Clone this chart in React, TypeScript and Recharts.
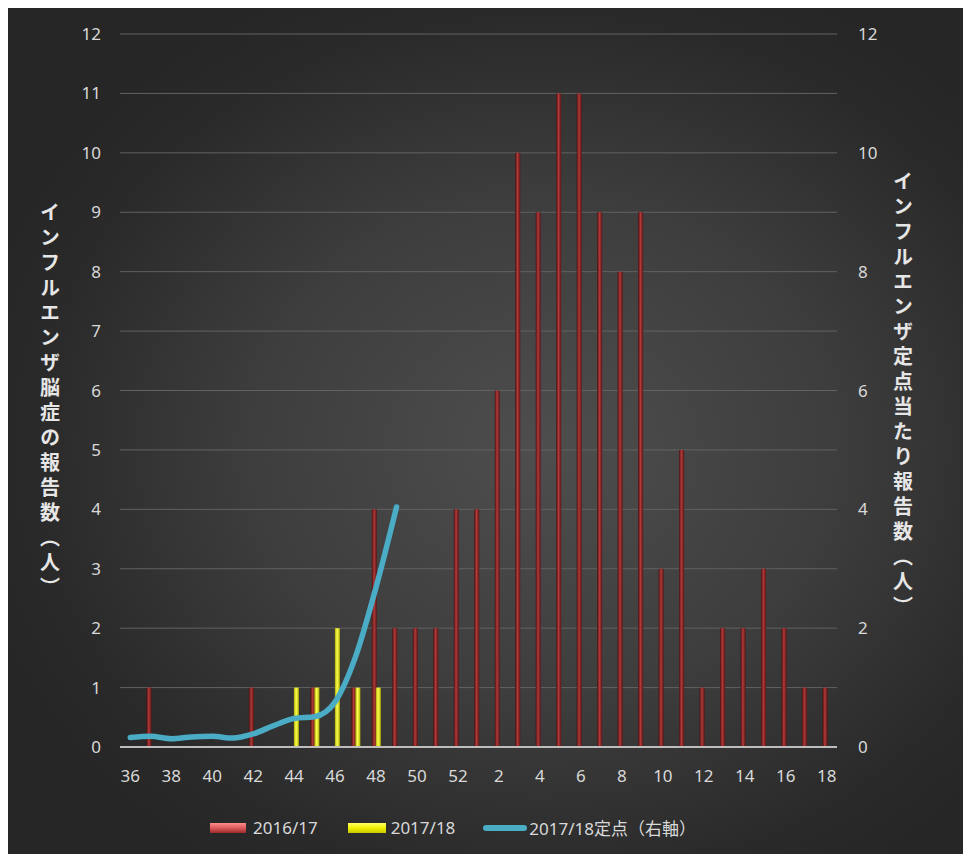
import React from 'react';
import {
  ComposedChart,
  Bar,
  Line,
  XAxis,
  YAxis,
  CartesianGrid,
  Legend,
} from 'recharts';

const weeks = [
  '36', '37', '38', '39', '40', '41', '42', '43', '44', '45', '46', '47', '48', '49', '50', '51', '52',
  '1', '2', '3', '4', '5', '6', '7', '8', '9', '10', '11', '12', '13', '14', '15', '16', '17', '18',
];

const cases201617 = [
  0, 1, 0, 0, 0, 0, 1, 0, 0, 1, 0, 1, 4, 2, 2, 2, 4,
  4, 6, 10, 9, 11, 11, 9, 8, 9, 3, 5, 1, 2, 2, 3, 2, 1, 1,
];

const cases201718 = [
  null, null, null, null, null, null, null, null, 1, 1, 2, 1, 1, null, null, null, null,
  null, null, null, null, null, null, null, null, null, null, null, null, null, null, null, null, null, null,
];

const sentinel201718 = [
  0.16, 0.18, 0.14, 0.17, 0.18, 0.15, 0.22, 0.36, 0.48, 0.51, 0.76, 1.52, 2.69, 4.04, null, null, null,
  null, null, null, null, null, null, null, null, null, null, null, null, null, null, null, null, null, null,
];

const leftTicks = [0, 1, 2, 3, 4, 5, 6, 7, 8, 9, 10, 11, 12];
const rightTicks = [0, 2, 4, 6, 8, 10, 12];

const seriesNames = {
  a: '2016/17',
  b: '2017/18',
  c: '2017/18定点（右軸）',
};

const leftTitle = 'インフルエンザ脳症の報告数（人）';
const rightTitle = 'インフルエンザ定点当たり報告数（人）';

const data = weeks.map((w, i) => ({
  week: w,
  a: cases201617[i],
  b: cases201718[i],
  c: sentinel201718[i],
}));

const FONT = "'Noto Sans', 'Noto Sans CJK JP', sans-serif";
const CJK = "'Noto Sans CJK JP', sans-serif";
const TICK = '#d9d9d9';

const VerticalTitle = (props: any) => {
  const { viewBox, text, dx, dy } = props;
  const cx = viewBox.x + dx;
  const cy = viewBox.y + viewBox.height / 2 + dy;
  return (
    <text
      x={cx}
      y={cy}
      textAnchor="middle"
      fill="#e6e6e6"
      fontSize={20}
      fontWeight={700}
      fontFamily={CJK}
      style={{ writingMode: 'vertical-rl', letterSpacing: '5px' } as any}
    >
      {text}
    </text>
  );
};

const LegendContent = () => {
  const item: React.CSSProperties = {
    display: 'flex',
    alignItems: 'center',
    color: TICK,
    fontSize: 17,
    fontFamily: FONT,
    whiteSpace: 'nowrap',
  };
  return (
    <div style={{ display: 'flex', alignItems: 'center', paddingLeft: 202 }}>
      <div style={{ ...item, marginRight: 30 }}>
        <span
          style={{
            display: 'inline-block',
            width: 36,
            height: 10,
            marginRight: 7,
            background: 'linear-gradient(to bottom, #ff8c8c 0%, #e06060 45%, #9a2a2a 100%)',
          }}
        />
        {seriesNames.a}
      </div>
      <div style={{ ...item, marginRight: 28 }}>
        <span
          style={{
            display: 'inline-block',
            width: 38,
            height: 10,
            marginRight: 5,
            background: 'linear-gradient(to bottom, #ffff66 0%, #f0f000 50%, #c8c800 100%)',
          }}
        />
        {seriesNames.b}
      </div>
      <div style={item}>
        <span
          style={{
            display: 'inline-block',
            width: 44,
            height: 6,
            borderRadius: 3,
            marginRight: 2,
            background: '#4bacc6',
          }}
        />
        {seriesNames.c}
      </div>
    </div>
  );
};

export default function App() {
  return (
    <div
      style={{
        position: 'absolute',
        left: 8,
        top: 8,
        width: 955,
        height: 846,
        background:
          'radial-gradient(ellipse 62% 60% at 56% 52%, #4e4e4e 0%, #3d3d3d 50%, #2a2a2a 85%, #262626 100%)',
        fontFamily: FONT,
      }}
    >
      <ComposedChart
        width={955}
        height={846}
        data={data}
        margin={{ top: 26, right: 0, left: 0, bottom: 30 }}
        barGap={-1}
        barCategoryGap={0}
      >
        <defs>
          <linearGradient id="redGrad" x1="0" y1="0" x2="1" y2="0">
            <stop offset="0%" stopColor="#4a0f0f" />
            <stop offset="45%" stopColor="#b03a3a" />
            <stop offset="100%" stopColor="#5a1414" />
          </linearGradient>
          <linearGradient id="yelGrad" x1="0" y1="0" x2="1" y2="0">
            <stop offset="0%" stopColor="#a8a800" />
            <stop offset="45%" stopColor="#ffff50" />
            <stop offset="100%" stopColor="#b0b000" />
          </linearGradient>
        </defs>
        <CartesianGrid vertical={false} stroke="#626262" strokeWidth={1} yAxisId="left" />
        <XAxis
          dataKey="week"
          interval={1}
          tickLine={false}
          axisLine={{ stroke: '#bdbdbd', strokeWidth: 2 }}
          tick={{ fill: TICK, fontSize: 17, fontFamily: FONT }}
          tickMargin={17}
          height={40}
        />
        <YAxis
          yAxisId="left"
          domain={[0, 12]}
          ticks={leftTicks}
          interval={0}
          axisLine={false}
          tickLine={false}
          tickMargin={13}
          width={112}
          tick={{ fill: TICK, fontSize: 17, fontFamily: FONT }}
          label={<VerticalTitle text={leftTitle} dx={42} dy={12} />}
        />
        <YAxis
          yAxisId="right"
          orientation="right"
          domain={[0, 12]}
          ticks={rightTicks}
          interval={0}
          axisLine={false}
          tickLine={false}
          tickMargin={15}
          width={126}
          tick={{ fill: TICK, fontSize: 17, fontFamily: FONT }}
          label={<VerticalTitle text={rightTitle} dx={66} dy={6} />}
        />
        <Legend
          verticalAlign="bottom"
          content={<LegendContent />}
          wrapperStyle={{ height: 37, bottom: 2 }}
        />
        <Bar
          yAxisId="left"
          dataKey="a"
          name={seriesNames.a}
          fill="url(#redGrad)"
          barSize={5}
          isAnimationActive={false}
        />
        <Bar
          yAxisId="left"
          dataKey="b"
          name={seriesNames.b}
          fill="url(#yelGrad)"
          barSize={5}
          isAnimationActive={false}
        />
        <Line
          yAxisId="right"
          type="monotone"
          dataKey="c"
          name={seriesNames.c}
          stroke="#4bacc6"
          strokeWidth={5.5}
          strokeLinecap="round"
          dot={false}
          activeDot={false}
          connectNulls={false}
          isAnimationActive={false}
        />
      </ComposedChart>
    </div>
  );
}
